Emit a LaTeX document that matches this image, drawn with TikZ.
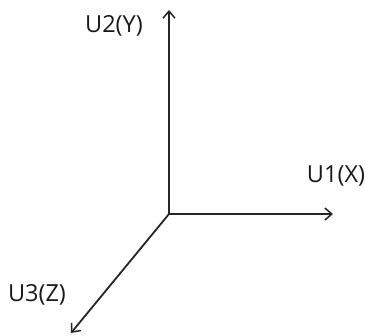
\documentclass[tikz,border=0pt]{standalone}
\usepackage{fontspec}
\setmainfont{Open Sans}
\usetikzlibrary{arrows.meta}
\begin{document}
\begin{tikzpicture}[x=1pt,y=-1pt,
  axis/.style={line width=1.8pt,draw=black!85,-{Straight Barb[length=7pt,width=12pt,line width=1.5pt]}},
  lbl/.style={font=\fontsize{23.5}{26}\selectfont,text=black!90,inner sep=0pt}]
\useasboundingbox (0,0) rectangle (366,336);
\coordinate (O) at (169,214);
\coordinate (Y) at (169,10);
\coordinate (X) at (333,214);
\coordinate (Z) at (71,333);
\draw[axis] (O) -- (Y);
\draw[axis] (O) -- (X);
\draw[axis] (O) -- (Z);
\node[lbl] (ly) at (114,26) {U2(Y)};
\node[lbl] (lx) at (336,176) {U1(X)};
\node[lbl] (lz) at (37,295) {U3(Z)};
\end{tikzpicture}
\end{document}
